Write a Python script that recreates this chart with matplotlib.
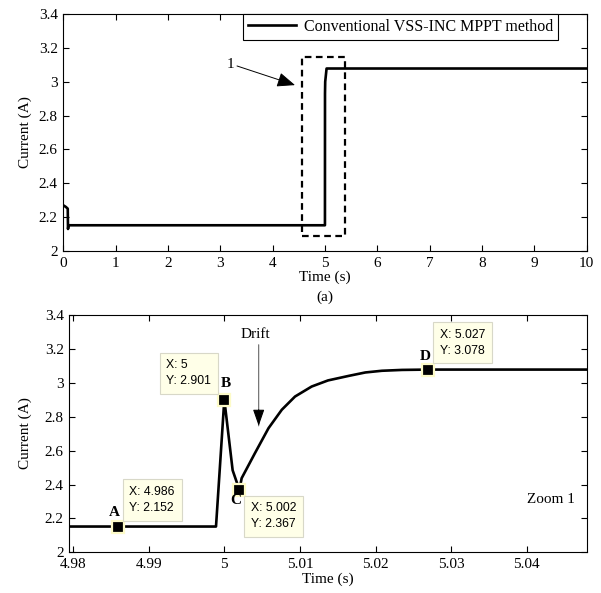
import matplotlib
matplotlib.use("Agg")
import matplotlib.pyplot as plt
from matplotlib.patches import Rectangle

# ---------------- data ----------------
top_t = [0, 0.05, 0.085, 0.09, 0.1, 4.999, 5.0, 5.004, 5.03, 10]
top_i = [2.27, 2.26, 2.25, 2.13, 2.152, 2.152, 2.93, 3.0, 3.078, 3.078]

zoom_t = [4.9795, 4.9989, 5.0, 5.0011, 5.002, 5.00229, 5.00405, 5.00584, 5.0076,
          5.00935, 5.01155, 5.01371, 5.01647, 5.01865, 5.02084, 5.0235, 5.027, 5.048]
zoom_i = [2.152, 2.152, 2.901, 2.484, 2.367, 2.437, 2.585, 2.732, 2.841,
          2.919, 2.978, 3.014, 3.041, 3.061, 3.071, 3.076, 3.078, 3.078]

tip_labels = ["A", "B", "C", "D"]
tip_x = [4.986, 5.0, 5.002, 5.027]
tip_y = [2.152, 2.901, 2.367, 3.078]
tip_text = ["X: 4.986\nY: 2.152", "X: 5\nY: 2.901", "X: 5.002\nY: 2.367", "X: 5.027\nY: 3.078"]

top_xticks = [0, 1, 2, 3, 4, 5, 6, 7, 8, 9, 10]
yticks = [2, 2.2, 2.4, 2.6, 2.8, 3, 3.2, 3.4]
ytick_labels = ["2", "2.2", "2.4", "2.6", "2.8", "3", "3.2", "3.4"]
zoom_xticks = [4.98, 4.99, 5.0, 5.01, 5.02, 5.03, 5.04]
zoom_xtick_labels = ["4.98", "4.99", "5", "5.01", "5.02", "5.03", "5.04"]

legend_label = "Conventional VSS-INC MPPT method"

# ---------------- figure ----------------
W, H = 601, 593
fig = plt.figure(figsize=(W / 100, H / 100), dpi=100)
serif = "Liberation Serif"
sans = "Liberation Sans"
plt.rcParams["font.family"] = serif


def px_axes(l, t, r, b):
    return fig.add_axes([l / W, 1 - b / H, (r - l) / W, (b - t) / H])


def style(ax):
    ax.tick_params(direction="in", top=True, right=True, length=4, width=0.8,
                   labelsize=11, pad=4)
    for s in ax.spines.values():
        s.set_linewidth(0.8)
    for lab in ax.get_xticklabels() + ax.get_yticklabels():
        lab.set_fontfamily(serif)


# ---- top panel ----
ax1 = px_axes(63.3, 14, 586.7, 251)
ax1.plot(top_t, top_i, color="black", lw=1.9, label=legend_label)
ax1.set_xlim(0, 10)
ax1.set_ylim(2, 3.4)
ax1.set_xticks(top_xticks)
ax1.set_xticklabels([str(v) for v in top_xticks])
ax1.set_yticks(yticks)
ax1.set_yticklabels(ytick_labels)
style(ax1)
leg = ax1.legend(loc="upper right", bbox_to_anchor=(0.945, 1.0), borderaxespad=0,
                 fancybox=False, edgecolor="black", framealpha=1,
                 prop={"family": serif, "size": 11.5}, handlelength=3.0,
                 handletextpad=0.5, borderpad=0.3)
leg.get_frame().set_linewidth(0.8)

ax1.add_patch(Rectangle((4.555, 2.089), 5.38 - 4.555, 3.144 - 2.089,
                        fill=False, ls=(0, (3, 2)), lw=1.6, ec="black", zorder=3))
ax1.annotate("", xy=(4.427, 2.980), xytext=(3.319, 3.093),
             arrowprops=dict(arrowstyle="-|>,head_length=1.1,head_width=0.45",
                             color="black", lw=0.7, shrinkA=0, shrinkB=0))
ax1.text(3.185, 3.099, "1", ha="center", va="center", fontsize=11, fontfamily=serif)

# ---- bottom panel ----
ax2 = px_axes(69.3, 315, 587.3, 552.3)
ax2.plot(zoom_t, zoom_i, color="black", lw=1.9)
ax2.set_xlim(4.9795, 5.048)
ax2.set_ylim(2, 3.4)
ax2.set_xticks(zoom_xticks)
ax2.set_xticklabels(zoom_xtick_labels)
ax2.set_yticks(yticks)
ax2.set_yticklabels(ytick_labels)
style(ax2)

ax2.plot(tip_x, tip_y, ls="none", marker="s", ms=8, mfc="black",
         mec="#fdfbc8", mew=1.6, zorder=5)

# datatip text left edge / vertical centre (pixel positions)
box_px = [(126, 500), (163, 373.5), (248, 516.5), (438, 343)]
letter_px = [(111, 513), (222.5, 384), (232.5, 501), (424, 357)]


def px2data(px, py):
    return 4.98 + (px - 69.3) / 7607.0, 2 + (552.3 - py) / 169.3


for (bx, by), txt in zip(box_px, tip_text):
    x, y = px2data(bx, by)
    ax2.text(x, y, txt, ha="left", va="center", fontsize=8.8, fontfamily=sans,
             linespacing=1.45, zorder=6, multialignment="left",
             bbox=dict(boxstyle="square,pad=0.55", fc="#ffffe8", ec="#d8d8c8", lw=0.8))
for (lx, ly), lab in zip(letter_px, tip_labels):
    x, y = px2data(lx, ly)
    ax2.text(x, y, lab, ha="center", va="center", fontsize=11, fontweight="bold",
             fontfamily=serif, zorder=6)

dx, dy = px2data(252.3, 335)
ax2.text(dx, dy, "Drift", ha="center", va="center", fontsize=11, fontfamily=serif)
a0 = px2data(256, 345)
a1 = px2data(256, 426)
ax2.annotate("", xy=a1, xytext=a0,
             arrowprops=dict(arrowstyle="-", color="#666666", lw=0.8, shrinkA=0, shrinkB=0))
ax2.annotate("", xy=a1, xytext=px2data(256, 410),
             arrowprops=dict(arrowstyle="-|>,head_length=1.0,head_width=0.35",
                             color="black", lw=0.8, shrinkA=0, shrinkB=0))
zx, zy = px2data(550, 500)
ax2.text(zx, zy, "Zoom 1", ha="center", va="center", fontsize=11, fontfamily=serif)

# ---- axis labels ----
fig.text(25 / W, 1 - 132 / H, "Current (A)", rotation=90, ha="center", va="center",
         fontsize=11, fontfamily=serif)
fig.text(25 / W, 1 - 433 / H, "Current (A)", rotation=90, ha="center", va="center",
         fontsize=11, fontfamily=serif)
fig.text(325 / W, 1 - 277 / H, "Time (s)", ha="center", va="center",
         fontsize=11, fontfamily=serif)
fig.text(325 / W, 1 - 297 / H, "(a)", ha="center", va="center",
         fontsize=11, fontfamily=serif)
fig.text(328 / W, 1 - 579 / H, "Time (s)", ha="center", va="center",
         fontsize=11, fontfamily=serif)

fig.savefig("out.png", dpi=100, facecolor="white")
